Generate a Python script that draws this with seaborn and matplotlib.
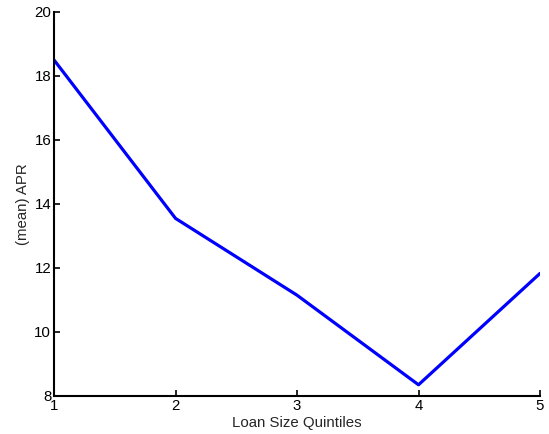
import matplotlib
matplotlib.use("Agg")
import matplotlib.pyplot as plt
import seaborn as sns
import pandas as pd

quintiles = [1, 2, 3, 4, 5]
mean_apr = [18.5, 13.55, 11.15, 8.35, 11.83]

sns.set_style("ticks")
plt.rcParams['font.family'] = ['Liberation Sans', 'DejaVu Sans']

df = pd.DataFrame({'quintile': quintiles, 'apr': mean_apr})

fig = plt.figure(figsize=(5.49, 4.34), dpi=100)
ax = fig.add_axes([0.0984, 0.0876, 0.8852, 0.8848])
sns.lineplot(data=df, x='quintile', y='apr', color='#0000ff', linewidth=2.3, ax=ax)

ax.set_xlim(1, 5)
ax.set_ylim(8, 20)
ax.set_xticks(quintiles)
ax.set_yticks([8, 10, 12, 14, 16, 18, 20])
ax.tick_params(direction='in', length=4, width=1.2, labelsize=10.8, pad=2, colors='black')
for side in ['left', 'bottom']:
    ax.spines[side].set_linewidth(1.5)
    ax.spines[side].set_color('black')
sns.despine(ax=ax)
ax.set_xlabel('Loan Size Quintiles', fontsize=10.8, labelpad=2)
ax.set_ylabel('(mean) APR', fontsize=10.8, labelpad=3)

fig.savefig('out.png', dpi=100)
